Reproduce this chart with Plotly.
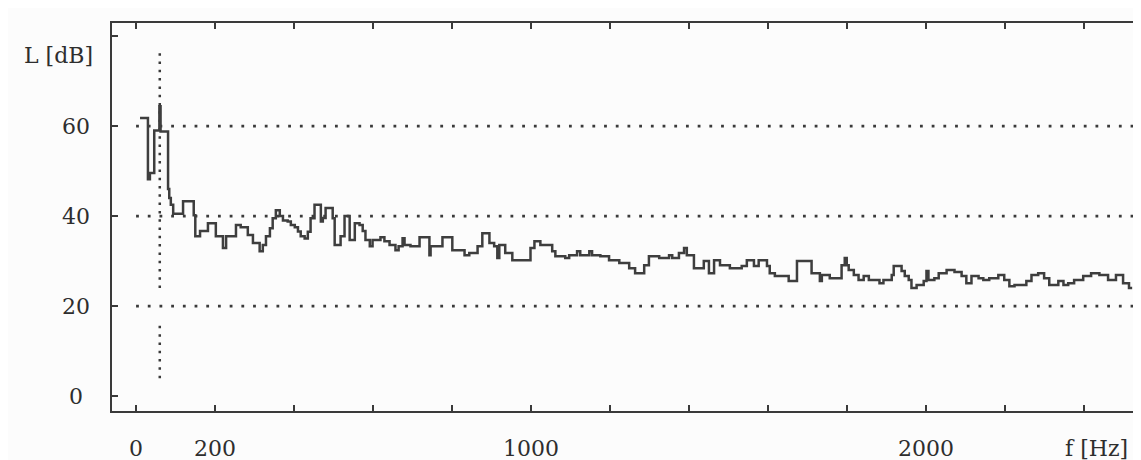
import plotly.graph_objects as go

# Spectrum trace (step points: frequency in Hz, level in dB)
freq = [10, 30, 35, 46, 59, 62, 81, 84, 88, 94, 119, 146, 150, 162, 182, 202, 220, 228, 253, 265, 283,
        296, 313, 321, 329, 339, 346, 354, 364, 372, 384, 392, 402, 410, 417, 427, 435, 442, 452, 468,
        473, 480, 498, 503, 518, 528, 541, 554, 566, 574, 581, 592, 599, 619, 629, 642, 657,
        665, 675, 680, 695, 718, 743, 746, 776, 801, 832, 844, 865, 877, 895, 907, 915, 920, 935, 953,
        999, 1009, 1024,
        1054, 1062, 1087, 1097, 1117, 1125, 1148, 1155, 1176, 1198, 1224, 1249, 1264, 1287, 1299, 1325,
        1350, 1358, 1375, 1388, 1395,
        1413, 1438, 1451, 1464, 1479, 1504, 1534, 1547, 1565, 1577, 1598, 1605, 1618, 1653, 1674, 1711,
        1732, 1737, 1757,
        1787, 1795, 1800, 1805, 1818, 1830, 1843, 1856, 1883, 1893, 1914, 1919, 1939, 1947, 1957, 1964,
        1977, 1995, 2002, 2007, 2022, 2033, 2053, 2073, 2091, 2103, 2116,
        2134, 2146, 2161, 2184, 2199, 2212, 2225, 2255, 2268, 2285, 2300, 2313, 2336, 2349, 2361, 2376,
        2399, 2419, 2440, 2462, 2482, 2500, 2515, 2523]
level = [61.8, 48.2, 49.6, 59.0, 64.4, 58.8, 46.0, 44.0, 42.5, 40.5, 43.3, 40.2, 35.5, 36.7, 38.4, 35.5, 32.9, 35.5, 38.0, 37.5, 35.8,
         34.0, 32.2, 33.6, 35.5, 37.3, 39.5, 41.3, 40.0, 39.0, 38.8, 38.0, 37.5, 36.6, 35.5, 35.0, 36.5, 39.5, 42.5, 38.8,
         39.6, 41.8, 39.5, 33.6, 35.5, 40.0, 34.7, 38.4, 38.0, 36.7, 34.7, 33.3, 34.7, 35.3, 34.4, 33.6, 32.4,
         33.3, 35.1, 33.6, 33.3, 35.3, 31.3, 33.3, 35.3, 32.4, 31.3, 31.8, 33.3, 36.2, 34.0, 33.3, 30.7, 33.6, 31.8, 30.2,
         32.9, 34.4, 33.6,
         32.2, 31.1, 30.7, 31.3, 32.2, 31.3, 32.2, 31.3, 31.1, 30.2, 29.6, 28.4, 27.3, 29.1, 31.1, 30.7,
         31.3, 30.7, 31.8, 32.9, 31.3,
         28.4, 30.0, 27.3, 30.2, 29.1, 28.4, 28.9, 30.2, 28.9, 30.2, 28.9, 27.3, 26.7, 25.6, 30.0, 27.3,
         25.6, 26.9, 26.2,
         29.1, 30.7, 29.1, 28.0, 26.9, 25.8, 26.7, 25.8, 25.1, 25.8, 26.9, 28.9, 27.8, 26.7, 25.8, 24.0,
         24.7, 25.6, 27.8, 25.8, 26.2, 27.3, 28.0, 27.6, 26.7, 25.1, 26.7,
         26.2, 25.8, 26.2, 26.9, 25.8, 24.4, 24.7, 25.6, 26.9, 27.3, 26.2, 24.7, 25.6, 24.7, 25.1, 25.8,
         26.7, 27.3, 26.9, 25.8, 26.9, 25.1, 24.0, 24.0]

# Dotted horizontal reference levels (dB) and their extent (Hz)
grid_levels = [20, 40, 60]
grid_extent = [0, 2535]

# Dotted vertical marker (Hz) and its two visible segments (dB)
marker_freq = 60
marker_segments = [[24, 77], [4, 16]]

# Axis ticks and labels
x_tick_vals = [0, 200, 400, 600, 800, 1000, 1200, 1400, 1600, 1800, 2000, 2200, 2400]
x_label_vals = [0, 200, 1000, 2000]
x_label_text = ["0", "200", "1000", "2000"]
y_tick_vals = [0, 20, 40, 60, 80]
y_label_vals = [0, 20, 40, 60]
y_label_text = ["0", "20", "40", "60"]

x_range = [-61, 2553]
y_range = [-3.3, 82.9]

INK = "#3a3a3a"
TXT = "#2e2e2e"
FONT = "DejaVu Serif"
FS = 22

fig = go.Figure()

for g in grid_levels:
    fig.add_trace(go.Scatter(x=grid_extent, y=[g, g], mode="lines",
                             line=dict(color=INK, width=2.8, dash="2.8px,8.9px"),
                             hoverinfo="skip", showlegend=False))

for seg in marker_segments:
    fig.add_trace(go.Scatter(x=[marker_freq, marker_freq], y=seg, mode="lines",
                             line=dict(color=INK, width=2.5, dash="2.5px,5.8px"),
                             hoverinfo="skip", showlegend=False))

fig.add_trace(go.Scatter(x=freq, y=level, mode="lines",
                         line=dict(shape="hv", color="#3e3e3e", width=2.5),
                         showlegend=False))

axis_common = dict(showgrid=False, zeroline=False, showline=True, linecolor=INK,
                   linewidth=2, ticks="inside", ticklen=6, tickwidth=1.6, tickcolor=INK,
                   showticklabels=False)

fig.update_xaxes(range=x_range, tickvals=x_tick_vals, mirror="ticks", **axis_common)
fig.update_yaxes(range=y_range, tickvals=y_tick_vals, mirror=True, **axis_common)

# Tick labels placed at the axis values
for v, t in zip(x_label_vals, x_label_text):
    fig.add_annotation(text=t, x=v, xref="x", y=-0.0954, yref="paper",
                       showarrow=False, xanchor="center", yanchor="middle",
                       font=dict(family=FONT, size=FS, color=TXT))
for v, t in zip(y_label_vals, y_label_text):
    fig.add_annotation(text=t, x=-0.0348, xref="paper", y=v, yref="y",
                       showarrow=False, xanchor="center", yanchor="middle",
                       font=dict(family=FONT, size=FS, color=TXT))

fig.add_annotation(text="L [dB]", xref="paper", yref="paper", x=-0.0522, y=0.9175,
                   showarrow=False, xanchor="center", yanchor="middle",
                   font=dict(family=FONT, size=FS, color=TXT))
fig.add_annotation(text="f [Hz]", xref="paper", yref="paper", x=0.9536, y=-0.0954,
                   showarrow=False, xanchor="center", yanchor="middle",
                   font=dict(family=FONT, size=FS, color=TXT))

fig.update_layout(width=1141, height=460, autosize=False,
                  margin=dict(l=104, r=3, t=15, b=57),
                  paper_bgcolor="#fcfcfc", plot_bgcolor="#fcfcfc",
                  showlegend=False)

fig.write_html("out.html")
